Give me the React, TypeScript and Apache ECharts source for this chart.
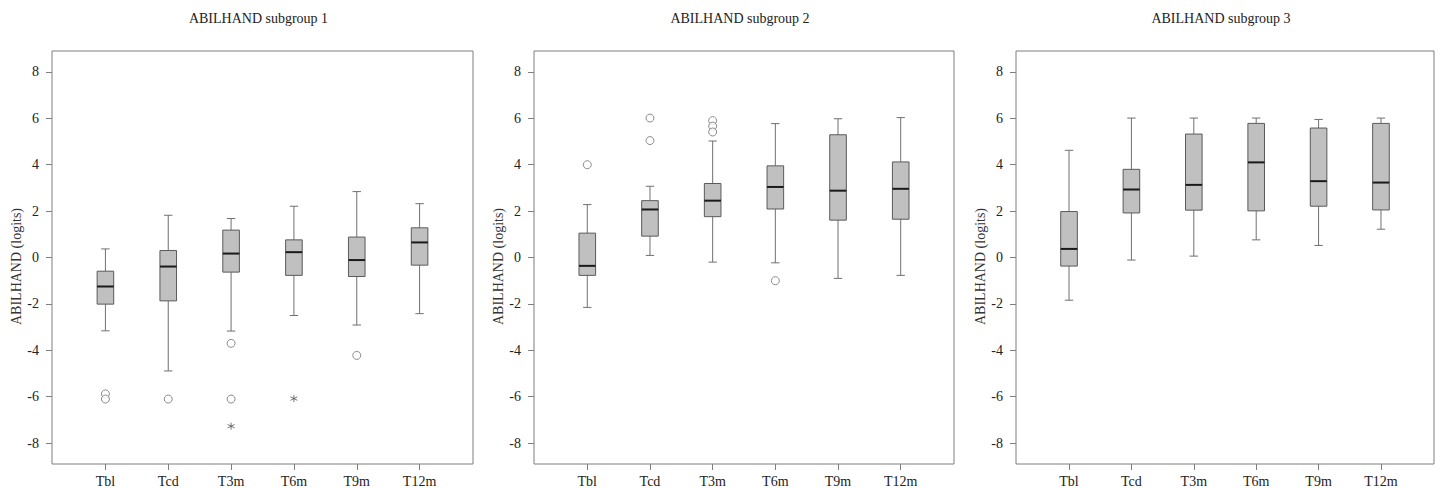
import React, { useEffect, useRef } from "react";
import * as echarts from "echarts";

const categories = ["Tbl", "Tcd", "T3m", "T6m", "T9m", "T12m"];
const titles = ["ABILHAND subgroup 1", "ABILHAND subgroup 2", "ABILHAND subgroup 3"];
const yTicks = [-8, -6, -4, -2, 0, 2, 4, 6, 8];

// [lower whisker, Q1, median, Q3, upper whisker]
const sg1Box = [
  [-3.16, -2.01, -1.25, -0.59, 0.37],
  [-4.89, -1.87, -0.39, 0.3, 1.82],
  [-3.17, -0.63, 0.17, 1.18, 1.68],
  [-2.5, -0.77, 0.23, 0.76, 2.21],
  [-2.91, -0.82, -0.11, 0.88, 2.84],
  [-2.42, -0.33, 0.65, 1.28, 2.32],
];
const sg2Box = [
  [-2.15, -0.77, -0.36, 1.05, 2.28],
  [0.09, 0.92, 2.07, 2.45, 3.07],
  [-0.2, 1.76, 2.45, 3.19, 5.02],
  [-0.23, 2.09, 3.04, 3.95, 5.77],
  [-0.9, 1.61, 2.88, 5.29, 5.98],
  [-0.77, 1.65, 2.96, 4.12, 6.03],
];
const sg3Box = [
  [-1.84, -0.37, 0.37, 1.98, 4.62],
  [-0.11, 1.92, 2.93, 3.8, 6.01],
  [0.06, 2.04, 3.13, 5.32, 6.01],
  [0.76, 2.01, 4.1, 5.78, 6.01],
  [0.52, 2.21, 3.29, 5.58, 5.95],
  [1.22, 2.05, 3.23, 5.78, 6.01],
];
// [category index (1-based), value]
const sg1Circles = [[1, -5.88], [1, -6.1], [2, -6.1], [3, -3.7], [3, -6.1], [5, -4.22]];
const sg1Stars = [[3, -7.27], [4, -6.08]];
const sg2Circles = [[1, 4.0], [2, 6.01], [2, 5.04], [3, 5.9], [3, 5.66], [3, 5.41], [4, -1.0]];
const sg2Stars: number[][] = [];
const sg3Circles: number[][] = [];
const sg3Stars: number[][] = [];

const boxes = [sg1Box, sg2Box, sg3Box];
const circles = [sg1Circles, sg2Circles, sg3Circles];
const stars = [sg1Stars, sg2Stars, sg3Stars];

const FONT = "'Liberation Serif', 'Times New Roman', serif";
const gridDefs = [
  { left: 52, width: 421 },
  { left: 534, width: 420 },
  { left: 1016, width: 418 },
];
const TOP = 51;
const HEIGHT = 413;

const starPath = "path://M0,-5L0,5M-4.33,-2.5L4.33,2.5M-4.33,2.5L4.33,-2.5";

export default function App() {
  const ref = useRef<HTMLDivElement>(null);
  useEffect(() => {
    document.body.style.margin = "0";
    const chart = echarts.init(ref.current!, null, { renderer: "svg" });
    const grid: any[] = [];
    const xAxis: any[] = [];
    const yAxis: any[] = [];
    const series: any[] = [];
    const graphic: any[] = [];
    gridDefs.forEach((g, i) => {
      grid.push({
        left: g.left,
        top: TOP,
        width: g.width,
        height: HEIGHT,
        show: true,
        borderColor: "#7f7f7f",
        borderWidth: 1,
        backgroundColor: "transparent",
      });
      xAxis.push({
        type: "value",
        gridIndex: i,
        min: 0.15,
        max: 6.85,
        splitLine: { show: false },
        axisLine: { show: false, onZero: false },
        axisTick: { show: true, length: 6, customValues: [1, 2, 3, 4, 5, 6], lineStyle: { color: "#7f7f7f" } },
        axisLabel: {
          customValues: [1, 2, 3, 4, 5, 6],
          formatter: (v: number) => categories[Math.round(v) - 1] ?? "",
          fontFamily: FONT,
          fontSize: 14,
          color: "#222",
          margin: 10,
        },
      });
      yAxis.push({
        type: "value",
        gridIndex: i,
        min: -8.9,
        max: 8.9,
        name: "ABILHAND (logits)",
        nameLocation: "middle",
        nameRotate: 90,
        nameGap: 28,
        nameTextStyle: { fontFamily: FONT, fontSize: 14, color: "#333", padding: [0, 18, 0, 0] },
        splitLine: { show: false },
        axisLine: { show: false, onZero: false },
        axisTick: { show: true, length: 6, customValues: yTicks, lineStyle: { color: "#7f7f7f" } },
        axisLabel: {
          customValues: yTicks,
          fontFamily: FONT,
          fontSize: 14,
          color: "#222",
          margin: 13,
        },
      });
      series.push({
        type: "custom",
        xAxisIndex: i,
        yAxisIndex: i,
        data: boxes[i].map((b, k) => [k + 1, ...b]),
        encode: { x: 0, y: [1, 2, 3, 4, 5] },
        renderItem: (params: any, api: any) => {
          const x = api.value(0);
          const lo = api.coord([x, api.value(1)]);
          const q1 = api.coord([x, api.value(2)]);
          const md = api.coord([x, api.value(3)]);
          const q3 = api.coord([x, api.value(4)]);
          const hi = api.coord([x, api.value(5)]);
          const cx = lo[0];
          const hw = 8.3;
          const cw = 4.2;
          const ws = () => ({ stroke: "#707070", lineWidth: 1 });
          return {
            type: "group",
            children: [
              { type: "line", shape: { x1: cx, y1: hi[1], x2: cx, y2: q3[1] }, style: ws() },
              { type: "line", shape: { x1: cx, y1: q1[1], x2: cx, y2: lo[1] }, style: ws() },
              { type: "line", shape: { x1: cx - cw, y1: hi[1], x2: cx + cw, y2: hi[1] }, style: ws() },
              { type: "line", shape: { x1: cx - cw, y1: lo[1], x2: cx + cw, y2: lo[1] }, style: ws() },
              {
                type: "rect",
                shape: { x: cx - hw, y: q3[1], width: hw * 2, height: q1[1] - q3[1] },
                style: { fill: "#c0c0c0", stroke: "#5a5a5a", lineWidth: 1 },
              },
              {
                type: "line",
                shape: { x1: cx - hw, y1: md[1], x2: cx + hw, y2: md[1] },
                style: { stroke: "#1a1a1a", lineWidth: 2 },
              },
            ],
          };
        },
      });
      series.push({
        type: "scatter",
        xAxisIndex: i,
        yAxisIndex: i,
        data: circles[i],
        symbol: "circle",
        symbolSize: 8,
        itemStyle: { color: "#fff", borderColor: "#707070", borderWidth: 1 },
      });
      series.push({
        type: "scatter",
        xAxisIndex: i,
        yAxisIndex: i,
        data: stars[i],
        symbol: starPath,
        symbolSize: 7,
        itemStyle: { color: "transparent", borderColor: "#555", borderWidth: 1 },
      });
      graphic.push({
        type: "text",
        x: g.left + g.width / 2 - 4,
        y: 18,
        style: {
          text: titles[i],
          fontFamily: FONT,
          fontSize: 14,
          fill: "#222",
          textAlign: "center",
          textVerticalAlign: "middle",
        },
      });
    });
    chart.setOption({
      animation: false,
      backgroundColor: "#fff",
      grid,
      xAxis,
      yAxis,
      series,
      graphic,
    });
    return () => chart.dispose();
  }, []);
  return <div ref={ref} style={{ width: 1440, height: 489 }} />;
}
